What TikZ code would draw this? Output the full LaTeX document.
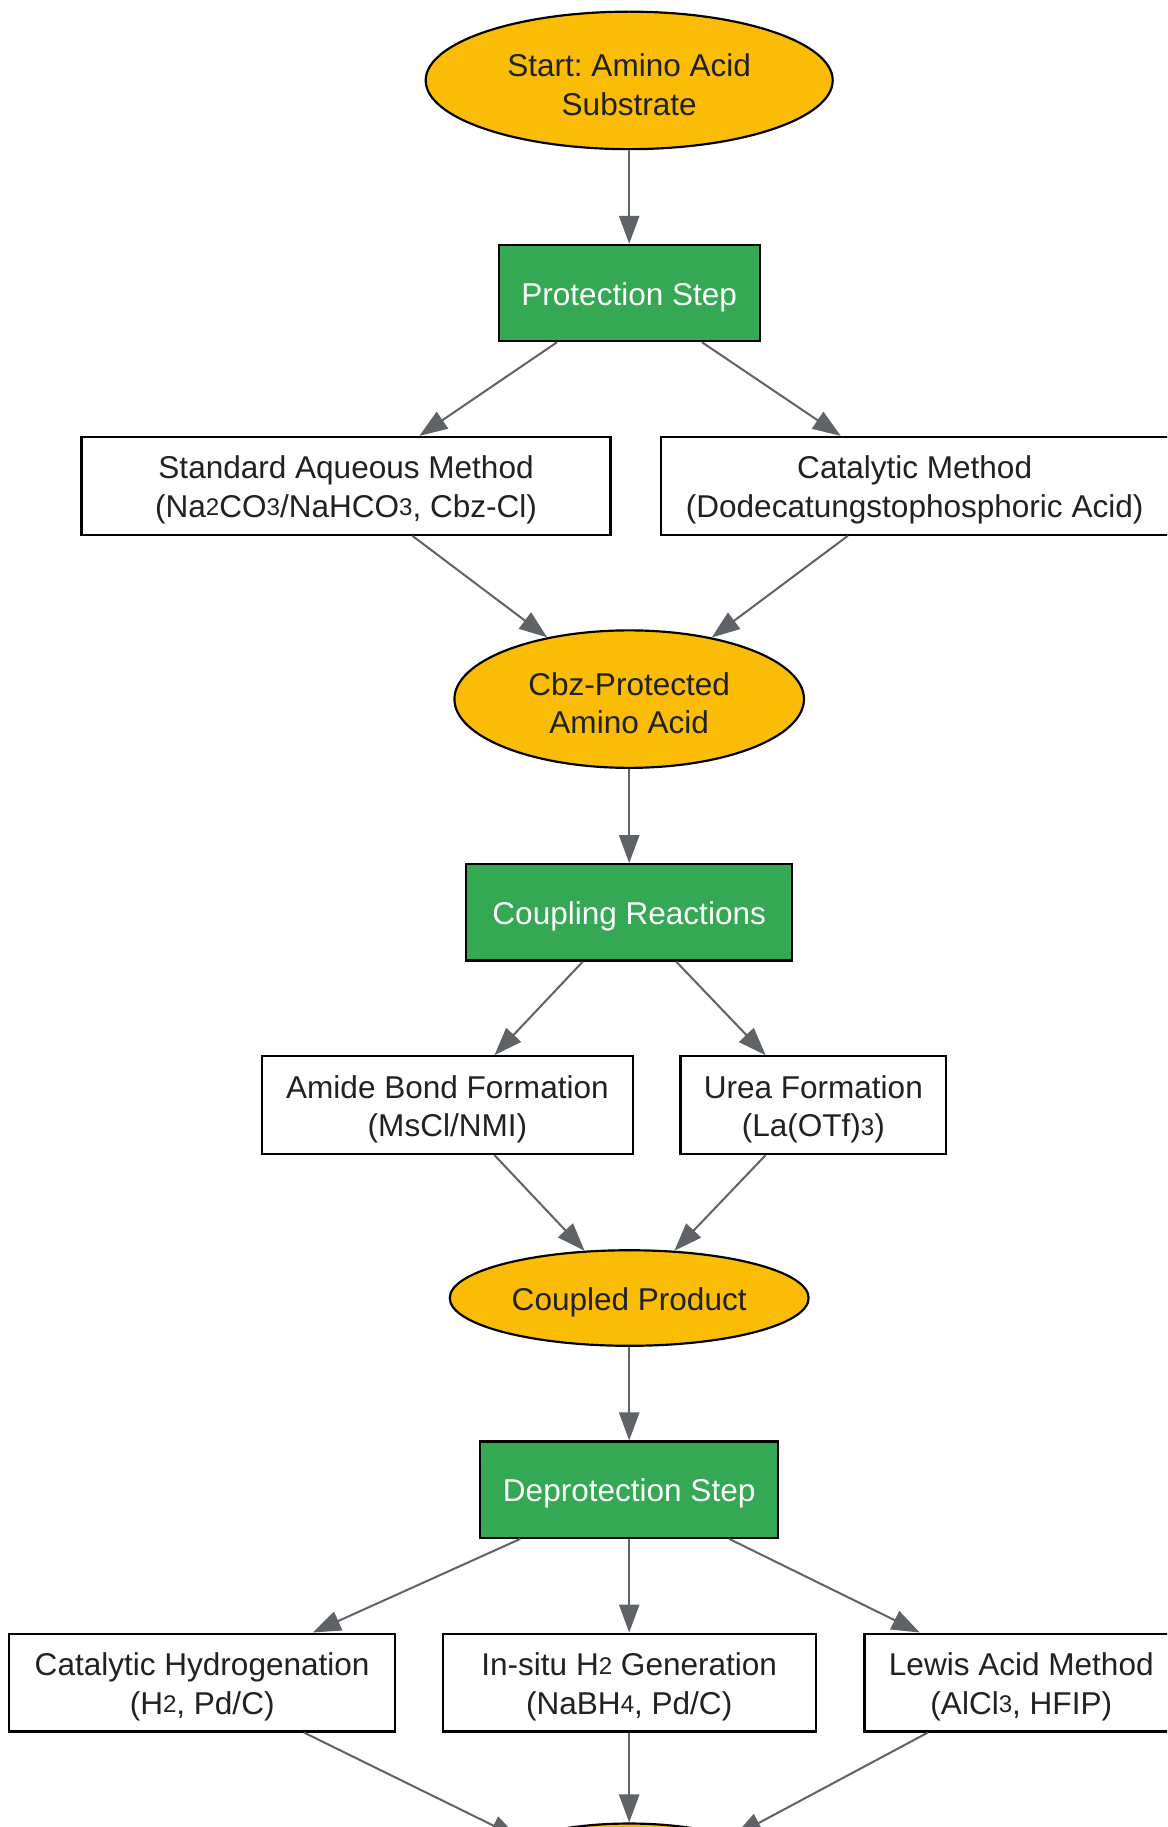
\documentclass[tikz,border=0pt]{standalone}
\usepackage{fontspec}
\setmainfont{Liberation Sans}
\usetikzlibrary{arrows.meta, shapes.geometric, positioning}
\definecolor{nodeyellow}{HTML}{FBBC05}
\definecolor{stepgreen}{HTML}{34A853}
\definecolor{edgegray}{HTML}{5F6368}
\definecolor{textdark}{HTML}{202124}
\newcommand{\chemsub}[1]{\raisebox{0.05em}{\fontsize{15.5}{15.5}\selectfont #1}}
\newcommand{\padtop}{\rule{0pt}{20pt}}
\frenchspacing
\tikzset{> = { Triangle[length = 18pt, width = 13pt] }}

\begin{document}
\begin{tikzpicture}[x = 0.75pt, y = -0.75pt, ->,
	every node/.style = { font = \fontsize{20.3}{24.75}\selectfont, align = center, inner sep = 0pt, line width = 1.4pt },
	state/.style = { draw, ellipse, fill = nodeyellow, text = textdark },
	stepbox/.style = { draw, rectangle, fill = stepgreen, text = white, minimum height = 62pt },
	method/.style = { draw, rectangle, fill = white, text = textdark, minimum height = 63pt },
	flow/.style = { draw = edgegray, line width = 1.3pt }]
		\useasboundingbox (0,0) rectangle (1001.6,1568);
		\clip (0,0) rectangle (1001.6,1568);

		\node [state, minimum width = 262pt, minimum height = 88.5pt] (start) at (540,69) {\padtop Start: Amino Acid\\Substrate};
		\node [stepbox, minimum width = 168pt] (prot) at (540,251.5) {\padtop Protection Step};
		\node [method, minimum width = 340.5pt] (std) at (297,417) {\padtop Standard Aqueous Method\\(Na\chemsub{2}CO\chemsub{3}/NaHCO\chemsub{3}, Cbz-Cl)};
		\node [method, minimum width = 327pt] (cat) at (785,417) {\padtop Catalytic Method\\(Dodecatungstophosphoric Acid)};
		\node [state, minimum width = 225pt, minimum height = 88.5pt] (cbz) at (540,600) {\padtop Cbz-Protected\\Amino Acid};

		\node [stepbox, minimum width = 210pt] (coup) at (540,783) {\padtop Coupling Reactions};
		\node [method, minimum width = 238.5pt] (amide) at (384,948.5) {\padtop Amide Bond Formation\\(MsCl/NMI)};
		\node [method, minimum width = 171pt] (urea) at (698,948.5) {\padtop Urea Formation\\(La(OTf)\chemsub{3})};
		\node [state, minimum width = 231pt, minimum height = 61.5pt] (coupled) at (540,1114) {\padtop Coupled Product};

		\node [stepbox, minimum width = 192pt] (deprot) at (540,1278.5) {\padtop Deprotection Step};
		\node [method, minimum width = 248.25pt] (hydro) at (173.5,1444) {\padtop Catalytic Hydrogenation\\(H\chemsub{2}, Pd/C)};
		\node [method, minimum width = 240pt] (insitu) at (540,1444) {\padtop In-situ H\chemsub{2} Generation\\(NaBH\chemsub{4}, Pd/C)};
		\node [method, minimum width = 201.75pt] (lewis) at (876.5,1444) {\padtop Lewis Acid Method\\(AlCl\chemsub{3}, HFIP)};
		\node [state, minimum width = 225pt, minimum height = 88.5pt] (final) at (540,1624) {};

		\draw [flow] (start) -- (prot);
		\draw [flow] (prot) -- (std);
		\draw [flow] (prot) -- (cat);
		\draw [flow] (std) -- (cbz);
		\draw [flow] (cat) -- (cbz);
		\draw [flow] (cbz) -- (coup);
		\draw [flow] (coup) -- (amide);
		\draw [flow] (coup) -- (urea);
		\draw [flow] (amide) -- (coupled);
		\draw [flow] (urea) -- (coupled);
		\draw [flow] (coupled) -- (deprot);
		\draw [flow] (deprot) -- (hydro);
		\draw [flow] (deprot) -- (insitu);
		\draw [flow] (deprot) -- (lewis);
		\draw [flow] (hydro) -- (final);
		\draw [flow] (insitu) -- (final);
		\draw [flow] (lewis) -- (final);
	\end{tikzpicture}
\end{document}
